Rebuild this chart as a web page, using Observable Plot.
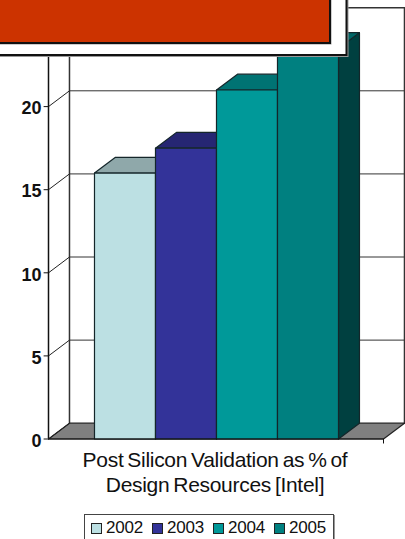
<!DOCTYPE html>
<html>
<head>
<meta charset="utf-8">
<script src="https://cdn.jsdelivr.net/npm/d3@7"></script>
<script src="https://cdn.jsdelivr.net/npm/@observablehq/plot@0.6"></script>
<style>
  html, body { margin: 0; padding: 0; background: #fff; width: 405px; height: 539px; overflow: hidden; }
  body { font-family: "Liberation Sans", Arial, sans-serif; color: #111; position: relative; }
  svg { display: block; }
  #caption { position: absolute; left: 45px; top: 448px; width: 340px; text-align: center;
             font-size: 21px; line-height: 24.5px; letter-spacing: -0.3px; word-spacing: -1.6px; white-space: nowrap; }
  #legend { position: absolute; left: 84px; top: 514px; width: 248px; height: 40px;
            border: 1px solid #444; box-shadow: 1px 1px 0 #999; }
  #legend span { position: absolute; top: 3px; font-size: 17px; letter-spacing: -0.2px; line-height: 19px; white-space: nowrap; }
  #legend i { position: absolute; top: 8px; width: 9px; height: 9px; border: 1px solid #222; }
</style>
</head>
<body>
<div id="chart"></div>
<div id="caption">Post Silicon Validation as % of<br>Design Resources [Intel]</div>
<div id="legend"></div>
<script>
// Share of design resources spent on post-silicon validation, by year.
const years = ["2002", "2003", "2004", "2005"];
const percents = [16, 17.5, 21, 23.5];
const frontColors = ["#bce0e3", "#333399", "#009999", "#008080"];
const topColors = ["#8fa8aa", "#262673", "#007373", "#006666"];
const sideColors = ["#5e7072", "#1a1a4d", "#004d4d", "#004040"];
const tickValues = [0, 5, 10, 15, 20, 25];

// The plot is a cabinet projection: x counts bar widths, y counts percent,
// and the depth of the box is expressed in those same units.
const xMin = -0.754, xMax = 4.738;
const depthX = 0.344, depthY = 0.95;
const yMax = 25;
const inkX = (px) => xMin + (px - 48) / 61;
const inkY = (py) => (438.5 - py) / 16.62;

const faces = [];
const face = (id, fill, corners) => {
  for (const [x, y] of [...corners, corners[0]]) faces.push({id, fill, x, y});
};
years.forEach((year, i) => {
  const v = percents[i];
  face(year + "-side", sideColors[i], [[i + 1, 0], [i + 1 + depthX, depthY], [i + 1 + depthX, v + depthY], [i + 1, v]]);
  face(year + "-top", topColors[i], [[i, v], [i + depthX, v + depthY], [i + 1 + depthX, v + depthY], [i + 1, v]]);
  face(year + "-front", frontColors[i], [[i, 0], [i + 1, 0], [i + 1, v], [i, v]]);
});

const floor = [];
for (const [x, y] of [[xMin, 0], [xMin + depthX, depthY], [xMax + depthX, depthY], [xMax, 0], [xMin, 0]]) floor.push({x, y});

const chart = Plot.plot({
  width: 405,
  height: 460,
  marginLeft: 0, marginRight: 0, marginTop: 0, marginBottom: 0,
  x: {domain: [xMin, xMax], range: [48, 383], axis: null},
  y: {domain: [0, yMax], range: [438.5, 23], axis: null},
  style: {fontFamily: "'Liberation Sans', Arial, sans-serif", background: "transparent", overflow: "hidden"},
  marks: [
    // Back wall outline and gridlines
    Plot.line([
      {x: xMin + depthX, y: depthY},
      {x: xMin + depthX, y: yMax + depthY},
      {x: xMax + depthX, y: yMax + depthY},
      {x: xMax + depthX, y: depthY}
    ], {x: "x", y: "y", stroke: "#333", strokeWidth: 1.5}),
    Plot.link(tickValues.slice(1, -1), {
      x1: xMin + depthX, x2: xMax + depthX,
      y1: (d) => d + depthY, y2: (d) => d + depthY,
      stroke: "#333", strokeWidth: 1
    }),
    // Floor
    Plot.line(floor, {x: "x", y: "y", fill: "#808080", stroke: "#222", strokeWidth: 1.2, curve: "linear"}),
    // Side wall: ticks folding back to the gridlines
    Plot.link(tickValues, {
      x1: xMin, x2: xMin + depthX,
      y1: (d) => d, y2: (d) => d + depthY,
      stroke: "#222", strokeWidth: 1
    }),
    Plot.ruleX([xMin], {y1: 0, y2: yMax, stroke: "#111", strokeWidth: 1.5}),
    Plot.link(tickValues, {
      x1: xMin - 0.08, x2: xMin,
      y1: (d) => d, y2: (d) => d,
      stroke: "#111", strokeWidth: 1
    }),
    Plot.ruleX([xMax], {y1: 0, y2: -0.3, stroke: "#111", strokeWidth: 1}),
    Plot.text(tickValues.slice(0, -1), {
      x: xMin, y: (d) => d, text: (d) => String(d),
      dx: -7, dy: 2, textAnchor: "end",
      fontSize: 18, fontWeight: "bold", fill: "#111"
    }),
    // Bars
    Plot.line(faces, {x: "x", y: "y", z: "id", fill: "fill", stroke: "#14262a", strokeWidth: 1.2, curve: "linear"}),
    // Baseline in front of the bars
    Plot.ruleY([0], {x1: xMin, x2: xMax, stroke: "#111", strokeWidth: 1.2}),
    // Title banner overlapping the top of the plot
    Plot.rect([0], {x1: inkX(-10), x2: inkX(348.5), y1: inkY(57), y2: inkY(-10), fill: "#999"}),
    Plot.rect([0], {x1: inkX(-10), x2: inkX(346.5), y1: inkY(55), y2: inkY(-10), fill: "#fff", stroke: "#111", strokeWidth: 2}),
    Plot.rect([0], {x1: inkX(-10), x2: inkX(331.5), y1: inkY(44.5), y2: inkY(-10), fill: "#999"}),
    Plot.rect([0], {x1: inkX(-10), x2: inkX(330), y1: inkY(43), y2: inkY(-10), fill: "#cc3300", stroke: "#111", strokeWidth: 2})
  ]
});
document.getElementById("chart").append(chart);

// Legend: one swatch and label per year
const legend = document.getElementById("legend");
const slots = [6, 67, 128, 189];
years.forEach((year, i) => {
  const swatch = document.createElement("i");
  swatch.style.left = slots[i] + "px";
  swatch.style.background = frontColors[i];
  const label = document.createElement("span");
  label.style.left = slots[i] + 15 + "px";
  label.textContent = year;
  legend.append(swatch, label);
});
</script>
</body>
</html>
